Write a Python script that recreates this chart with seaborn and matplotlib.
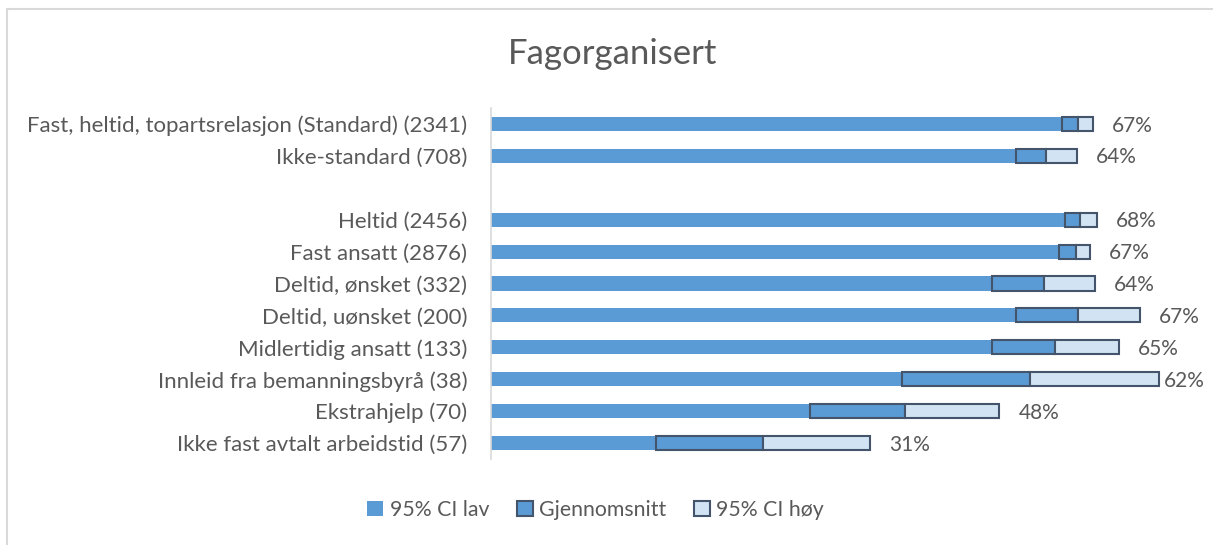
import pandas as pd
import matplotlib
matplotlib.use("Agg")
import matplotlib.pyplot as plt
from matplotlib.patches import Patch, Rectangle
import seaborn as sns

# Data (percent)
categories = [
    "Fast, heltid, topartsrelasjon (Standard) (2341)",
    "Ikke-standard (708)",
    "",
    "Heltid (2456)",
    "Fast ansatt (2876)",
    "Deltid, ønsket (332)",
    "Deltid, uønsket (200)",
    "Midlertidig ansatt (133)",
    "Innleid fra bemanningsbyrå (38)",
    "Ekstrahjelp (70)",
    "Ikke fast avtalt arbeidstid (57)",
]
ci_low = [65.6, 60.3, None, 65.9, 65.3, 57.6, 60.3, 57.5, 47.2, 36.6, 19.0]
mean = [67.4, 63.8, None, 67.7, 67.2, 63.5, 67.4, 64.8, 61.9, 47.6, 31.2]
ci_high = [69.1, 67.3, None, 69.6, 68.8, 69.4, 74.5, 72.1, 76.7, 58.4, 43.5]

blue = "#5B9BD5"
light = "#D2E3F3"
edge = "#44546A"
grey = "#595959"

sns.set_theme(style="white")
plt.rcParams["font.family"] = ["Lato", "DejaVu Sans"]

df = pd.DataFrame({"label": categories, "low": ci_low, "mean": mean, "high": ci_high})
data = df[df["label"] != ""]

fig = plt.figure(figsize=(12.13, 5.45), dpi=100)
ax = fig.add_axes([491 / 1213, 1 - 459 / 545, (1187.4 - 491) / 1213, (459 - 108) / 545])

sns.barplot(data=data, x="low", y="label", order=categories, orient="h",
            color=blue, saturation=1, width=0.44, linewidth=0, ax=ax)

pos = [categories.index(c) for c in data["label"]]
ax.barh(pos, data["mean"] - data["low"], left=data["low"], height=0.44,
        color=blue, edgecolor=edge, linewidth=1.5)
ax.barh(pos, data["high"] - data["mean"], left=data["mean"], height=0.44,
        color=light, edgecolor=edge, linewidth=1.5)

# labels sit right of the bar, but are pushed back inside the chart area when they would overflow
for p, m, h in zip(pos, data["mean"], data["high"]):
    x = min(h + 2.2, 77.3)
    ax.text(x, p + 0.05, f"{m:.0f}%", va="center", ha="left", fontsize=15, color=grey)

ax.set_xlim(0, 80)
ax.set_ylim(len(categories) - 0.5, -0.5)
ax.set_xlabel("")
ax.set_ylabel("")
ax.set_xticks([])
ax.tick_params(axis="y", length=0, pad=17, labelsize=16, labelcolor=grey)
for s in ["top", "right", "bottom"]:
    ax.spines[s].set_visible(False)
ax.spines["left"].set_color("#D9D9D9")
ax.spines["left"].set_linewidth(1.2)

fig.text(0.505, 1 - 54 / 545, "Fagorganisert", ha="center", va="center",
         fontsize=25, color=grey)

handles = [
    Patch(facecolor=blue, edgecolor=blue, linewidth=0, label="95% CI lav"),
    Patch(facecolor=blue, edgecolor=edge, linewidth=1.5, label="Gjennomsnitt"),
    Patch(facecolor=light, edgecolor=edge, linewidth=1.5, label="95% CI høy"),
]
fig.legend(handles=handles, loc="center", bbox_to_anchor=(0.491, 1 - 510 / 545),
           ncol=3, frameon=False, fontsize=15.3, handlelength=0.75, handleheight=0.75,
           handletextpad=0.3, columnspacing=1.3, labelcolor=grey)

fig.patches.append(Rectangle((7 / 1213, -0.1), 1.2, 1 - 9 / 545 + 0.1, transform=fig.transFigure,
                             fill=False, edgecolor="#D9D9D9", linewidth=1.5))

fig.savefig("out.png", dpi=100)
